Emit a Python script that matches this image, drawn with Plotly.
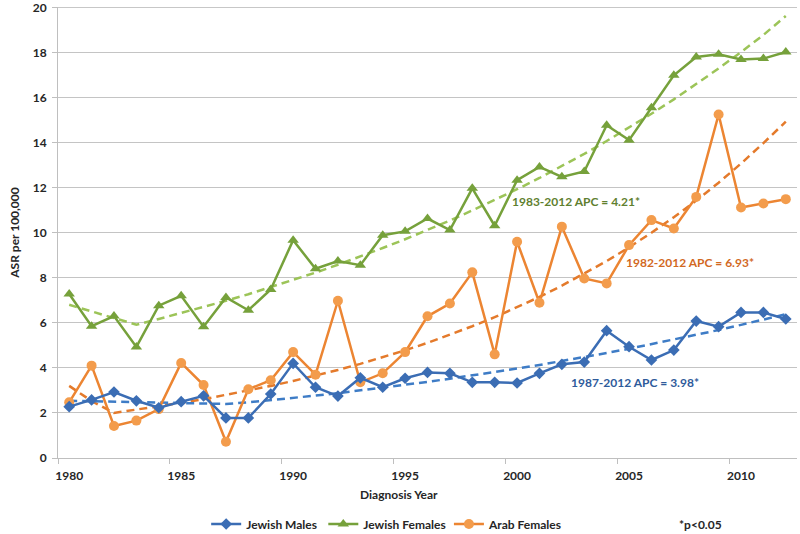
import plotly.graph_objects as go

years = list(range(1980, 2013))

jewish_males = [2.28, 2.58, 2.93, 2.54, 2.23, 2.50, 2.76, 1.78, 1.78, 2.84,
                4.20, 3.14, 2.75, 3.56, 3.14, 3.54, 3.80, 3.76, 3.36, 3.36,
                3.33, 3.76, 4.16, 4.26, 5.65, 4.94, 4.35, 4.79, 6.08, 5.83,
                6.46, 6.46, 6.17]

jewish_females = [7.28, 5.85, 6.30, 4.93, 6.76, 7.20, 5.83, 7.13, 6.56, 7.48,
                  9.67, 8.40, 8.74, 8.56, 9.89, 10.06, 10.63, 10.12, 11.97, 10.31,
                  12.33, 12.92, 12.48, 12.72, 14.77, 14.11, 15.55, 16.99, 17.80, 17.92,
                  17.69, 17.73, 18.02]

arab_females = [2.47, 4.10, 1.42, 1.66, 2.17, 4.22, 3.24, 0.72, 3.05, 3.45,
                4.70, 3.70, 6.98, 3.36, 3.76, 4.70, 6.29, 6.86, 8.24, 4.60,
                9.60, 6.89, 10.27, 7.97, 7.75, 9.45, 10.56, 10.19, 11.59, 15.25,
                11.12, 11.30, 11.49]

trend_males = [2.54, 2.52, 2.50, 2.48, 2.46, 2.44, 2.42, 2.40, 2.47, 2.56,
               2.66, 2.77, 2.88, 3.00, 3.12, 3.25, 3.38, 3.52, 3.66, 3.81,
               3.97, 4.13, 4.30, 4.48, 4.66, 4.85, 5.05, 5.25, 5.46, 5.68,
               5.91, 6.15, 6.38]

trend_jf = [6.80, 6.50, 6.20, 5.92, 6.17, 6.43, 6.70, 6.98, 7.27, 7.58,
            7.90, 8.23, 8.58, 8.94, 9.32, 9.71, 10.12, 10.54, 10.99, 11.45,
            11.93, 12.43, 12.96, 13.50, 14.07, 14.66, 15.28, 15.92, 16.59, 17.29,
            18.02, 18.78, 19.62]

trend_af = [3.20, 2.53, 2.00, 2.14, 2.29, 2.45, 2.61, 2.80, 2.99, 3.20,
            3.42, 3.66, 3.91, 4.18, 4.47, 4.78, 5.11, 5.47, 5.85, 6.25,
            6.69, 7.15, 7.65, 8.18, 8.74, 9.35, 10.00, 10.69, 11.43, 12.22,
            13.07, 13.98, 14.93]

series_names = ["Jewish Males", "Jewish Females", "Arab Females"]
x_tick_labels = [1980, 1985, 1990, 1995, 2000, 2005, 2010]
y_tick_vals = list(range(0, 21, 2))

apc_labels = ["1987-2012 APC = 3.98*", "1983-2012 APC = 4.21*", "1982-2012 APC = 6.93*"]

FONT = "Lato"
TXT = "#262626"
W = "bold"
GRID = "#c4c4c4"

blue, green, orange = "#3b6db4", "#76a13b", "#ec8532"
blue_d, green_d, orange_d = "#3e7cc6", "#9cc458", "#e47a2b"

fig = go.Figure()

# trend lines
for tr, col in [(trend_jf, green_d), (trend_af, orange_d), (trend_males, blue_d)]:
    fig.add_trace(go.Scatter(x=years, y=tr, mode="lines", showlegend=False,
                             line=dict(color=col, width=2.5, dash="8px,5px"),
                             hoverinfo="skip"))

fig.add_trace(go.Scatter(x=years, y=jewish_females, name=series_names[1], mode="lines+markers",
                         line=dict(color=green, width=2.5),
                         marker=dict(symbol="triangle-up", size=10, color=green),
                         legend="legend2"))
fig.add_trace(go.Scatter(x=years, y=arab_females, name=series_names[2], mode="lines+markers",
                         line=dict(color=orange, width=2.5),
                         marker=dict(symbol="circle", size=10, color="#f39c4c"),
                         legend="legend3"))
fig.add_trace(go.Scatter(x=years, y=jewish_males, name=series_names[0], mode="lines+markers",
                         line=dict(color=blue, width=2.5),
                         marker=dict(symbol="diamond", size=9, color=blue),
                         legend="legend"))

LEG_Y = 1 - 524 / 534
legend_common = dict(orientation="h", yanchor="middle", xanchor="left", yref="container",
                     font=dict(family=FONT, size=12, color=TXT, weight=W),
                     bgcolor="rgba(0,0,0,0)", itemwidth=30)

fig.update_layout(
    width=800, height=534,
    margin=dict(l=58, r=3, t=7, b=76, autoexpand=False),
    plot_bgcolor="white", paper_bgcolor="white",
    font=dict(family=FONT, size=12, color=TXT, weight=W),
    legend=dict(x=0.2005, y=LEG_Y, **legend_common),
    legend2=dict(x=0.359, y=LEG_Y, **legend_common),
    legend3=dict(x=0.529, y=LEG_Y, **legend_common),
    xaxis=dict(range=[1979.5, 2012.5], tickmode="array", tickvals=x_tick_labels,
               ticktext=[str(v) for v in x_tick_labels], ticks="",
               showgrid=False, showline=True, linecolor="#bfbfbf", linewidth=1,
               zeroline=False, ticklabelstandoff=7,
               minor=dict(tickmode="linear", tick0=1979.5, dtick=5, ticks="outside",
                          ticklen=5, tickcolor="#bfbfbf", showgrid=False),
               tickfont=dict(family=FONT, size=12, color=TXT, weight=W)),
    yaxis=dict(range=[0, 20.02], tickmode="array", tickvals=y_tick_vals,
               ticks="outside", ticklen=5, tickcolor="#bfbfbf",
               showgrid=True, gridcolor=GRID, gridwidth=1,
               showline=True, linecolor="#bfbfbf", linewidth=1, zeroline=False,
               ticklabelstandoff=3, ticklabeloverflow="allow",
               title=dict(text="ASR per 100,000", standoff=10,
                          font=dict(family=FONT, size=12, color=TXT, weight=W)),
               tickfont=dict(family=FONT, size=12, color=TXT, weight=W)),
)

# top gridline (value 20), drawn under the data
fig.add_shape(type="line", xref="paper", yref="y", x0=0, x1=1, y0=y_tick_vals[-1], y1=y_tick_vals[-1],
              line=dict(color=GRID, width=1), layer="below")

annos = [
    dict(x=2002.63, y=11.40, text=apc_labels[1], color="#5f802f"),
    dict(x=2007.72, y=8.70, text=apc_labels[2], color="#d2691f"),
    dict(x=2005.27, y=3.33, text=apc_labels[0], color="#2f5b9b"),
]
for a in annos:
    fig.add_annotation(x=a["x"], y=a["y"], xref="x", yref="y", text=a["text"],
                       showarrow=False, xanchor="center", yanchor="middle",
                       font=dict(family=FONT, size=12, color=a["color"], weight="bold"))

fig.add_annotation(x=(399 - 58) / 739, y=-(494 - 458) / 451, xref="paper", yref="paper",
                   text="Diagnosis Year", showarrow=False, xanchor="center", yanchor="middle",
                   font=dict(family=FONT, size=12, color=TXT, weight=W))
fig.add_annotation(x=(700 - 58) / 739, y=-(524 - 458) / 451, xref="paper", yref="paper",
                   text="*p<0.05", showarrow=False, xanchor="center", yanchor="middle",
                   font=dict(family=FONT, size=12, color=TXT, weight=W))

fig.write_html("out.html")
